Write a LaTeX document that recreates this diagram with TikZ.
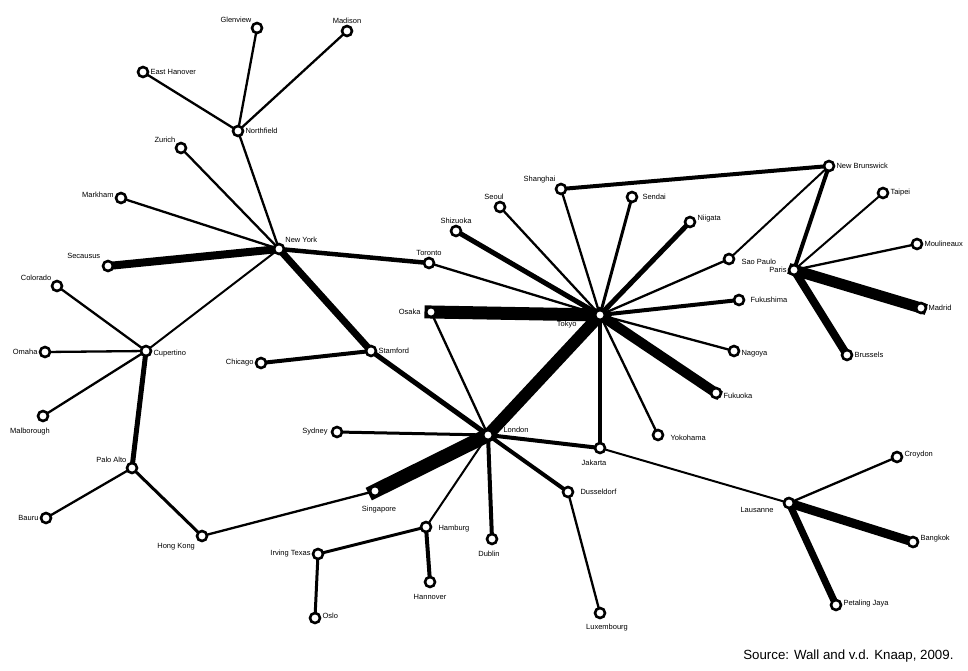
\documentclass[tikz,border=0pt]{standalone}
\usepackage{fontspec}
\setmainfont{Liberation Sans}
\usepackage{tikz}
\usetikzlibrary{backgrounds}

\begin{document}
\begin{tikzpicture}[
      x=1pt, y=-1pt,
      city/.style={circle, draw, fill=white, line width=2.6pt, inner sep=0pt, minimum size=10pt},
      link/.style={line cap=rect},
      every node/.style={font=\fontsize{7.5}{9}\selectfont},
      every label/.style={inner sep=1pt}
    ]
    \useasboundingbox (0,0) rectangle (968,670);
    % North America
    \node[city, label=above left:Glenview] (glen) at (257,28) {};
    \node[city, label=above:Madison] (madi) at (347,31) {};
    \node[city, label=right:East Hanover] (ehan) at (143,72) {};
    \node[city, label=right:Northfield] (nfld) at (238,131) {};
    \node[city, label=above left:Zurich] (zuri) at (181,148) {};
    \node[city, label={[yshift=3pt]left:Markham}] (mark) at (121,198) {};
    \node[city, label={[label distance=3pt]above left:Secausus}] (seca) at (108,266) {};
    \node[city, label={[label distance=1pt]above right:New York}] (nyc) at (279,249) {};
    \node[city, label=above left:Colorado] (colo) at (57,286) {};
    \node[city, label={[yshift=-3pt]right:Cupertino}] (cupe) at (146,351) {};
    \node[city, label=left:Omaha] (omah) at (45,352) {};
    \node[city, label={[xshift=-13pt, label distance=5pt]below:Malborough}] (malb) at (43,416) {};
    \node[city, label=above left:Palo Alto] (palo) at (132,468) {};
    \node[city, label=left:Bauru] (baur) at (46,518) {};
    \node[city, label={[label distance=2pt]below left:Hong Kong}] (hkg) at (202,536) {};
    \node[city, label=left:Chicago] (chic) at (261,363) {};
    \node[city, label=right:Stamford] (stam) at (371,351) {};
    \node[city, label=above:Toronto] (toro) at (429,263) {};
    % Asia
    \node[city, label={[label distance=3pt]left:Osaka}] (osak) at (431,312) {};
    \node[city, label={[label distance=16pt, yshift=-10pt]left:Tokyo}] (toky) at (600,315) {};
    \node[city, label=above:Shizuoka] (shiz) at (456,231) {};
    \node[city, label={[xshift=-6pt]above:Seoul}] (seou) at (500,207) {};
    \node[city, label=above left:Shanghai] (shan) at (561,189) {};
    \node[city, label={[label distance=3pt]right:Sendai}] (send) at (632,197) {};
    \node[city, label={[yshift=3pt]right:Niigata}] (niig) at (690,222) {};
    \node[city, label=right:New Brunswick] (nbru) at (829,166) {};
    \node[city, label=right:Taipei] (taip) at (883,193) {};
    \node[city, label=right:Moulineaux] (moul) at (917,244) {};
    \node[city, label={[label distance=5pt, yshift=-3pt]right:Sao Paulo}] (sapa) at (729,259) {};
    \node[city, label=left:Paris] (pari) at (794,270) {};
    \node[city, label=right:Madrid] (madr) at (921,308) {};
    \node[city, label={[label distance=4pt]right:Fukushima}] (fuks) at (739,300) {};
    \node[city, label={[yshift=-3pt]right:Nagoya}] (nago) at (734,351) {};
    \node[city, label=right:Brussels] (brus) at (847,355) {};
    \node[city, label={[yshift=-3pt]right:Fukuoka}] (fukk) at (716,393) {};
    \node[city, label={[label distance=5pt, yshift=-3pt]right:Yokohama}] (yoko) at (658,435) {};
    % Europe and the rest
    \node[city, label={[label distance=8pt, yshift=5pt]right:London}] (lond) at (488,435) {};
    \node[city, label={[label distance=2pt]left:Sydney}] (sydn) at (337,432) {};
    \node[city, label={[xshift=-6pt, label distance=5pt]below:Jakarta}] (jaka) at (600,448) {};
    \node[city, label={[label distance=8pt, xshift=4pt]below:Singapore}] (sing) at (375,491) {};
    \node[city, label={[label distance=5pt]right:Dusseldorf}] (duss) at (568,492) {};
    \node[city, label={[label distance=5pt, yshift=-2pt]right:Hamburg}] (hamb) at (426,527) {};
    \node[city, label=left:Irving Texas] (irvi) at (318,554) {};
    \node[city, label={[xshift=-3pt, label distance=5pt]below:Dublin}] (dubl) at (492,539) {};
    \node[city, label={[label distance=5pt]below:Hannover}] (hann) at (430,582) {};
    \node[city, label={[yshift=2pt]right:Oslo}] (oslo) at (315,618) {};
    \node[city, label={[xshift=7pt, label distance=4pt]below:Luxembourg}] (luxe) at (600,613) {};
    \node[city, label={[label distance=8pt, yshift=-7pt]left:Lausanne}] (laus) at (789,503) {};
    \node[city, label={[yshift=2pt]right:Croydon}] (croy) at (897,457) {};
    \node[city, label={[yshift=3pt]right:Bangkok}] (bang) at (913,542) {};
    \node[city, label={[yshift=1pt]right:Petaling Jaya}] (peta) at (836,605) {};
    % Source line
    \node[anchor=east, font=\fontsize{13.3}{15}\selectfont] (src) at (957,656) {Source: Wall and v.d. Knaap, 2009.};
    \begin{scope}[on background layer]
      \draw[link, line width=2.3pt] (glen.center) -- (nfld.center);
      \draw[link, line width=2.3pt] (madi.center) -- (nfld.center);
      \draw[link, line width=2.3pt] (ehan.center) -- (nfld.center);
      \draw[link, line width=2.3pt] (nfld.center) -- (nyc.center);
      \draw[link, line width=2.3pt] (zuri.center) -- (nyc.center);
      \draw[link, line width=2.3pt] (mark.center) -- (nyc.center);
      \draw[link, line width=8pt] (seca.center) -- (nyc.center);
      \draw[link, line width=2pt] (cupe.center) -- (nyc.center);
      \draw[link, line width=4.5pt] (nyc.center) -- (toro.center);
      \draw[link, line width=7pt] (nyc.center) -- (stam.center);
      \draw[link, line width=2.3pt] (colo.center) -- (cupe.center);
      \draw[link, line width=2.3pt] (omah.center) -- (cupe.center);
      \draw[link, line width=2.3pt] (malb.center) -- (cupe.center);
      \draw[link, line width=5pt] (cupe.center) -- (palo.center);
      \draw[link, line width=2.3pt] (palo.center) -- (baur.center);
      \draw[link, line width=3pt] (palo.center) -- (hkg.center);
      \draw[link, line width=2.3pt] (hkg.center) -- (sing.center);
      \draw[link, line width=4pt] (chic.center) -- (stam.center);
      \draw[link, line width=5pt] (stam.center) -- (lond.center);
      \draw[link, line width=2.3pt] (toro.center) -- (toky.center);
      \draw[link, line width=13pt] (osak.center) -- (toky.center);
      \draw[link, line width=2.3pt] (osak.center) -- (lond.center);
      \draw[link, line width=5pt] (shiz.center) -- (toky.center);
      \draw[link, line width=2.3pt] (seou.center) -- (toky.center);
      \draw[link, line width=2.3pt] (shan.center) -- (toky.center);
      \draw[link, line width=4pt] (shan.center) -- (nbru.center);
      \draw[link, line width=3pt] (send.center) -- (toky.center);
      \draw[link, line width=5pt] (niig.center) -- (toky.center);
      \draw[link, line width=2.3pt] (sapa.center) -- (toky.center);
      \draw[link, line width=2pt] (sapa.center) -- (nbru.center);
      \draw[link, line width=4pt] (fuks.center) -- (toky.center);
      \draw[link, line width=2.3pt] (nago.center) -- (toky.center);
      \draw[link, line width=10pt] (fukk.center) -- (toky.center);
      \draw[link, line width=2.3pt] (yoko.center) -- (toky.center);
      \draw[link, line width=12pt] (toky.center) -- (lond.center);
      \draw[link, line width=3.5pt] (toky.center) -- (jaka.center);
      \draw[link, line width=4pt] (nbru.center) -- (pari.center);
      \draw[link, line width=2pt] (taip.center) -- (pari.center);
      \draw[link, line width=2.3pt] (moul.center) -- (pari.center);
      \draw[link, line width=11pt] (pari.center) -- (madr.center);
      \draw[link, line width=8pt] (pari.center) -- (brus.center);
      \draw[link, line width=3pt] (lond.center) -- (sydn.center);
      \draw[link, line width=4pt] (lond.center) -- (jaka.center);
      \draw[link, line width=14pt] (lond.center) -- (sing.center);
      \draw[link, line width=4pt] (lond.center) -- (duss.center);
      \draw[link, line width=2pt] (lond.center) -- (hamb.center);
      \draw[link, line width=4pt] (lond.center) -- (dubl.center);
      \draw[link, line width=3pt] (hamb.center) -- (irvi.center);
      \draw[link, line width=4pt] (hamb.center) -- (hann.center);
      \draw[link, line width=3pt] (irvi.center) -- (oslo.center);
      \draw[link, line width=2.3pt] (duss.center) -- (luxe.center);
      \draw[link, line width=2pt] (jaka.center) -- (laus.center);
      \draw[link, line width=2.3pt] (laus.center) -- (croy.center);
      \draw[link, line width=9pt] (laus.center) -- (bang.center);
      \draw[link, line width=7pt] (laus.center) -- (peta.center);
    \end{scope}
  \end{tikzpicture}
\end{document}
